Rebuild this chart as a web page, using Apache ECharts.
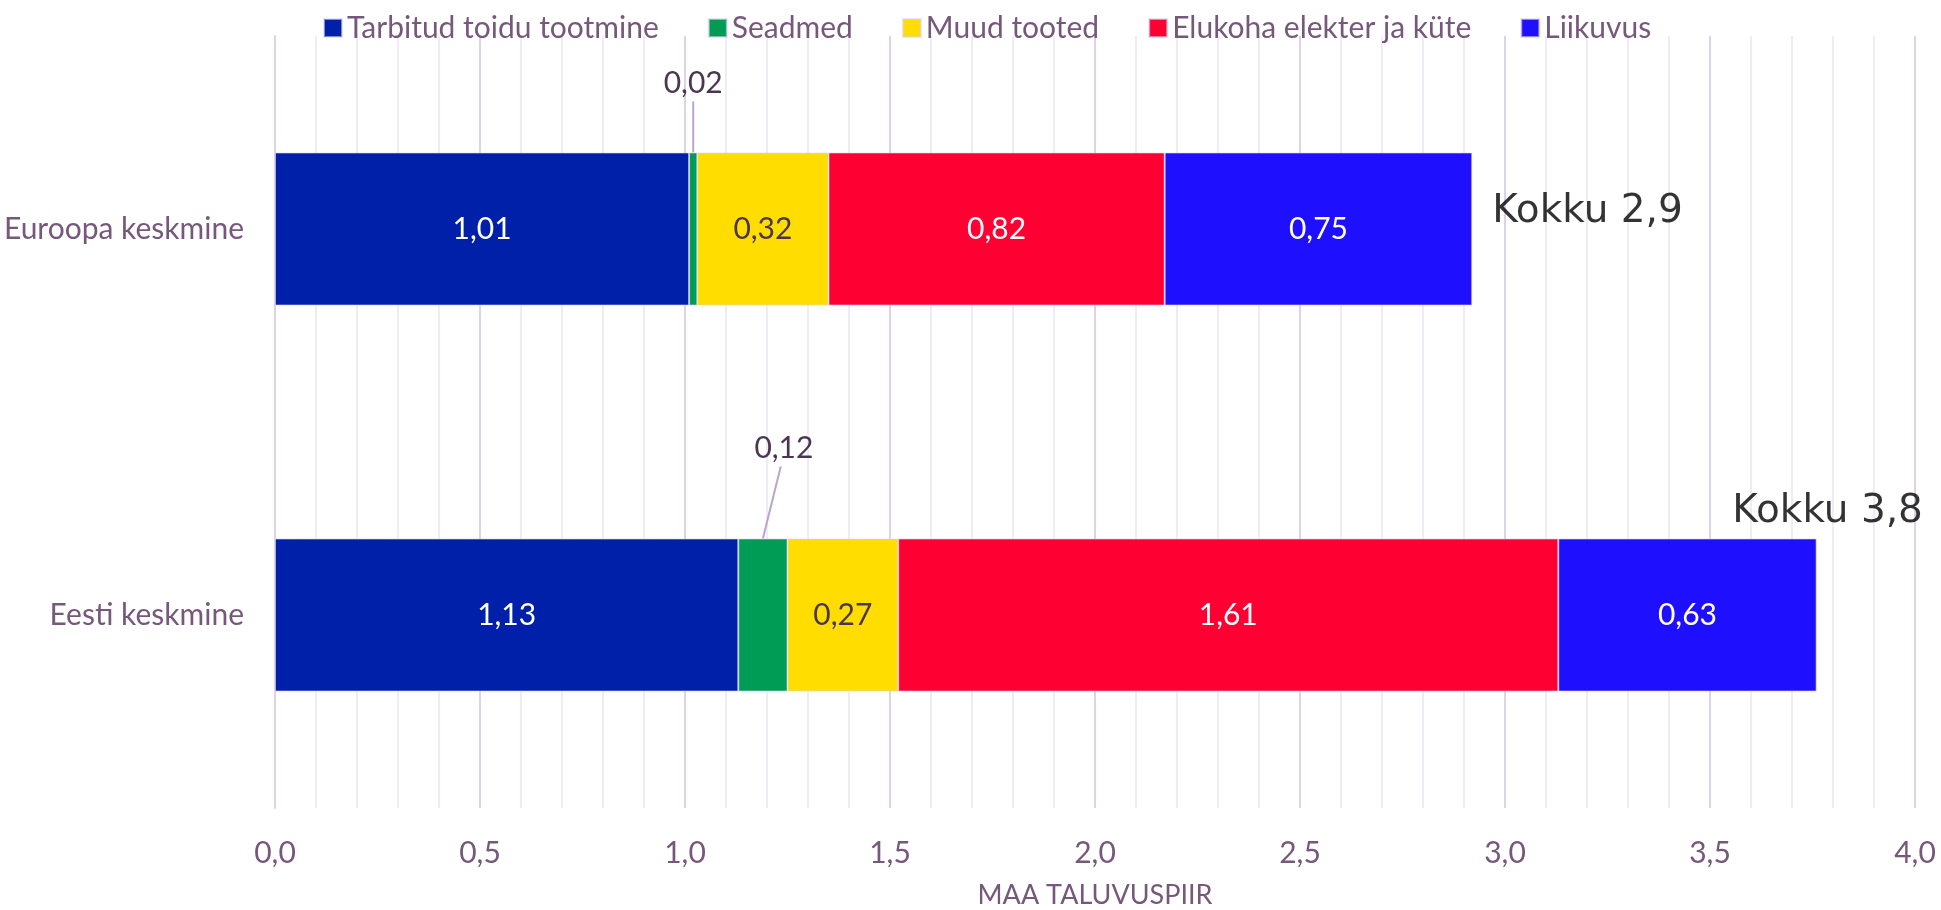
<!DOCTYPE html>
<html>
<head>
<meta charset="utf-8">
<script src="https://cdn.jsdelivr.net/npm/echarts@6/dist/echarts.min.js"></script>
<style>
  html, body { margin: 0; padding: 0; background: #fff; }
  #chart { width: 1941px; height: 910px; }
</style>
</head>
<body>
<div id="chart"></div>
<script>
var categories = ['Euroopa keskmine', 'Eesti keskmine'];
var seriesNames = ['Tarbitud toidu tootmine', 'Seadmed', 'Muud tooted', 'Elukoha elekter ja küte', 'Liikuvus'];
var toit = [1.01, 1.13];
var seadmed = [0.02, 0.12];
var muud = [0.32, 0.27];
var elukoht = [0.82, 1.61];
var liikuvus = [0.75, 0.63];
var kokkuLabels = ['Kokku 2,9', 'Kokku 3,8'];
var xTicks = ['0,0', '0,5', '1,0', '1,5', '2,0', '2,5', '3,0', '3,5', '4,0'];

var colors = ['#0020AA', '#009B55', '#FFDD00', '#FF0033', '#1F0FFF'];
var labelColors = ['#ffffff', '#4b3652', '#4b3652', '#ffffff', '#ffffff'];
var values = [toit, seadmed, muud, elukoht, liikuvus];

var myChart = echarts.init(document.getElementById('chart'));
var font = 'Lato';
var purple = '#76587a';
var barW = 153;

function fmt(v) { return String(v.toFixed(2)).replace('.', ','); }

// offsets of the small "Seadmed" labels (per category)
var seadShift = [{ dx: 0, dy: -49 }, { dx: 21, dy: -70 }];

var series = [];
for (var s = 0; s < seriesNames.length; s++) {
  var item = {
    name: seriesNames[s],
    type: 'bar',
    stack: 'total',
    barWidth: barW,
    data: values[s],
    itemStyle: { color: colors[s], borderColor: 'rgba(220,210,240,0.6)', borderWidth: 1 },
    label: {
      show: true,
      position: 'inside',
      color: labelColors[s],
      fontFamily: font,
      fontSize: 30,
      formatter: function (p) { return fmt(p.value); }
    }
  };
  if (s === 1) {
    item.label.position = 'top';
    item.label.distance = 5;
    item.labelLayout = function (p) {
      return seadShift[p.dataIndex];
    };
  }
  series.push(item);
}

// totals as invisible points at the end of each bar
var totals = categories.map(function (c, i) {
  var sum = 0;
  for (var s = 0; s < values.length; s++) sum += values[s][i];
  return sum;
});
series.push({
  name: 'Kokku',
  type: 'scatter',
  symbolSize: 0,
  silent: true,
  data: [
    { value: [totals[0], 0], label: { position: 'right', distance: 20, offset: [0, -17] } },
    { value: [totals[1], 1], label: { position: 'top', distance: 0, offset: [11, -84] } }
  ],
  label: {
    show: true,
    color: '#000000',
    fontFamily: 'DejaVu Sans',
    fontSize: 39,
    formatter: function (p) { return kokkuLabels[p.dataIndex]; }
  }
});

option = {
  animation: false,
  textStyle: { fontFamily: font },
  legend: {
    data: seriesNames,
    left: 318,
    top: 8,
    icon: 'rect',
    itemWidth: 18,
    itemHeight: 18,
    itemGap: 49,
    textStyle: { color: purple, fontSize: 30, fontFamily: font }
  },
  grid: { left: 275, right: 26, top: 36, bottom: 102, outerBoundsMode: 'none' },
  xAxis: {
    type: 'value',
    min: 0,
    max: 4,
    interval: 0.5,
    name: 'MAA TALUVUSPIIR',
    nameLocation: 'middle',
    nameGap: 74,
    nameTextStyle: { color: purple, fontSize: 27, fontFamily: font },
    axisLine: { show: false },
    axisTick: { show: false },
    axisLabel: {
      color: purple,
      fontSize: 30,
      fontFamily: font,
      margin: 30,
      formatter: function (v) { return xTicks[Math.round(v / 0.5)]; }
    },
    splitLine: { show: true, lineStyle: { color: '#ddd3e4', width: 2 } },
    minorTick: { show: false, splitNumber: 5 },
    minorSplitLine: { show: true, lineStyle: { color: '#f1ecf3', width: 2 } }
  },
  yAxis: {
    type: 'category',
    inverse: true,
    data: categories,
    axisLine: { show: true, lineStyle: { color: '#ddd3e4', width: 2 } },
    axisTick: { show: false },
    axisLabel: { color: purple, fontSize: 30, fontFamily: font, margin: 31 }
  },
  series: series
};

if (option && typeof option === "object") {
  myChart.setOption(option, true);
}

// leader lines from the "Seadmed" labels to their segments
var leaders = [];
for (var i = 0; i < categories.length; i++) {
  var mid = myChart.convertToPixel({ gridIndex: 0 }, [toit[i] + seadmed[i] / 2, i]);
  var barTop = mid[1] - barW / 2;
  var sh = seadShift[i];
  var labelCy = barTop - 5 - 15 + sh.dy;
  leaders.push({
    type: 'line',
    silent: true,
    shape: { x1: mid[0] + sh.dx * 0.85, y1: labelCy + 18, x2: mid[0], y2: barTop },
    style: { stroke: '#b9a6cc', lineWidth: 2 }
  });
}
myChart.setOption({ graphic: leaders });
</script>
</body>
</html>
